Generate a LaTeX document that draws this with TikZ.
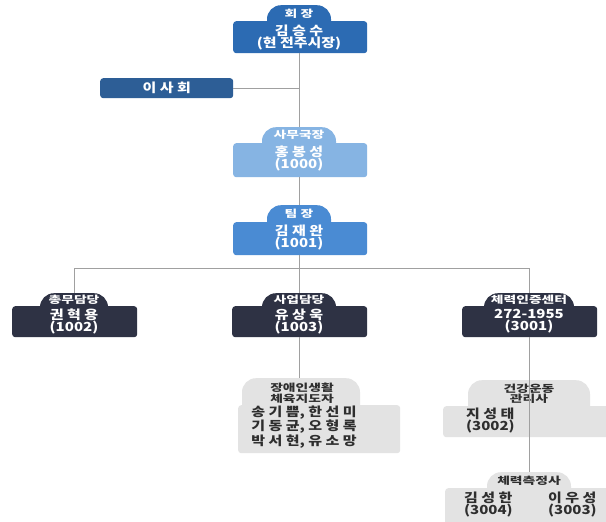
\documentclass[tikz,border=0pt]{standalone}
\usepackage{fontspec}
\setmainfont{Noto Sans CJK KR}[FakeStretch=1.2]
\newfontfamily\tabfont{Noto Sans CJK KR}[FakeStretch=1.38]
\definecolor{cTop}{HTML}{2C6BB3}
\definecolor{cBoard}{HTML}{2D5E96}
\definecolor{cSec}{HTML}{86B4E3}
\definecolor{cTeam}{HTML}{4A8BD3}
\definecolor{cDark}{HTML}{2E3244}
\definecolor{cGray}{HTML}{E3E3E3}
\definecolor{cLine}{HTML}{A0A0A0}
\definecolor{cTxt}{HTML}{2E2E2E}
\tikzset{
  tabshape/.style={rectangle, rounded corners=14pt, inner sep=0pt, anchor=north},
  boxshape/.style={rectangle, rounded corners=3pt, inner sep=0pt, anchor=north west},
  tabtxt/.style={font=\tabfont\bfseries\fontsize{10}{10.5}\selectfont, align=center, inner sep=0pt},
  maintxt/.style={font=\bfseries\fontsize{12.5}{12}\selectfont, align=center, inner sep=0pt},
  conn/.style={draw=cLine, line width=0.9pt}
}
\begin{document}
\begin{tikzpicture}[x=1pt,y=-1pt]
\fill[white] (0,0) rectangle (606,522);
\useasboundingbox (0,0) rectangle (606,522);
% 회장
\node[tabshape, fill=cTop, minimum width=64pt, minimum height=34pt] (t0) at (299,5) {};
\node[boxshape, fill=cTop, minimum width=134pt, minimum height=32pt] (b0) at (233,21) {};
\node[tabtxt, text=white] (l0) at (299,14) {회 장};
\node[maintxt, text=white] (m0) at (299,37.5) {김 승 수\\(현 전주시장)};
% 이사회
\node[boxshape, fill=cBoard, minimum width=133pt, minimum height=20pt] (bb) at (100,78) {};
\node[maintxt, text=white] (mb) at (bb.center) {이 사 회};
% 사무국장
\node[tabshape, fill=cSec, minimum width=74pt, minimum height=34pt] (t1) at (299,127) {};
\node[boxshape, fill=cSec, minimum width=134pt, minimum height=34pt] (b1) at (233,143) {};
\node[tabtxt, text=white] (l1) at (299,135) {사무국장};
\node[maintxt, text=white] (m1) at (299,158) {홍 봉 성\\(1000)};
% 팀장
\node[tabshape, fill=cTeam, minimum width=64pt, minimum height=34pt] (t2) at (299,205) {};
\node[boxshape, fill=cTeam, minimum width=134pt, minimum height=33pt] (b2) at (233,222) {};
\node[tabtxt, text=white] (l2) at (299,214) {팀 장};
\node[maintxt, text=white] (m2) at (299,238) {김 재 완\\(1001)};
% 총무담당
\node[tabshape, fill=cDark, minimum width=68pt, minimum height=30pt] (t3) at (74,293) {};
\node[boxshape, fill=cDark, minimum width=125pt, minimum height=31pt] (b3) at (12,306) {};
\node[tabtxt, text=white] (l3) at (74,300) {총무담당};
\node[maintxt, text=white] (m3) at (74,321.5) {권 혁 용\\(1002)};
% 사업담당
\node[tabshape, fill=cDark, minimum width=74pt, minimum height=30pt] (t4) at (299,293) {};
\node[boxshape, fill=cDark, minimum width=135pt, minimum height=31pt] (b4) at (232,306) {};
\node[tabtxt, text=white] (l4) at (299,300) {사업담당};
\node[maintxt, text=white] (m4) at (299,321.5) {유 상 욱\\(1003)};
% 체력인증센터
\node[tabshape, fill=cDark, minimum width=90pt, minimum height=30pt] (t5) at (529,293) {};
\node[boxshape, fill=cDark, minimum width=135pt, minimum height=31pt] (b5) at (462,306) {};
\node[tabtxt, text=white] (l5) at (529,300) {체력인증센터};
\node[maintxt, text=white] (m5) at (529,321.5) {272-1955\\(3001)};
% 장애인생활 체육지도자
\node[tabshape, fill=cGray, minimum width=118pt, minimum height=44pt] (t6) at (301,378) {};
\node[boxshape, fill=cGray, minimum width=162pt, minimum height=48pt] (b6) at (238,405) {};
\node[tabtxt, text=cTxt] (l6) at (302,393) {장애인생활\\체육지도자};
\node[maintxt, text=cTxt] (m6) at (304,427) {송 기 쁨, 한 선 미\\기 동 균, 오 형 록\\박 서 현, 유 소 망};
% 건강운동관리사
\node[tabshape, fill=cGray, minimum width=122pt, minimum height=44pt] (t7) at (529,380) {};
\node[boxshape, fill=cGray, minimum width=180pt, minimum height=31pt] (b7) at (443,406) {};
\node[tabtxt, text=cTxt] (l7) at (529,394) {건강운동\\관리사};
\node[maintxt, text=cTxt, align=left, anchor=west] (m7) at (466,421) {지 성 태\\(3002)};
% 체력측정사
\node[tabshape, fill=cGray, minimum width=84pt, minimum height=32pt] (t8) at (529,472) {};
\node[boxshape, fill=cGray, minimum width=180pt, minimum height=40pt] (b8) at (445,488) {};
\node[tabtxt, text=cTxt] (l8) at (529,481) {체력측정사};
\node[maintxt, text=cTxt, align=left, anchor=west] (m8a) at (464,504) {김 성 한\\(3004)};
\node[maintxt, text=cTxt, align=left, anchor=west] (m8b) at (548,504) {이 우 성\\(3003)};
% connectors
\coordinate (j0) at (b0.south |- bb.east);
\draw[conn] (b0.south -| t0.south) -- (t1.north);
\draw[conn] (bb.east) -- (j0);
\draw[conn] (b1.south -| t1.south) -- (t2.north);
\coordinate (jc) at (299,268);
\coordinate (jl) at (74,268);
\coordinate (jr) at (529,268);
\draw[conn] (b2.south -| t2.south) -- (jc);
\draw[conn] (jl) -- (jr);
\draw[conn] (jl) -- (t3.north);
\draw[conn] (jc) -- (t4.north);
\draw[conn] (jr) -- (t5.north);
\draw[conn] (b4.south -| t4.south) -- (t6.north -| t4.south);
\draw[conn] (b5.south -| t5.south) -- (t8.north);
\end{tikzpicture}
\end{document}
